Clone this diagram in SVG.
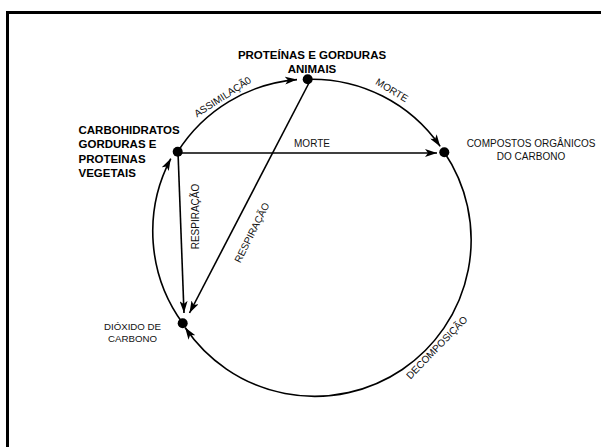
<svg xmlns="http://www.w3.org/2000/svg" width="601" height="447" viewBox="0 0 601 447">
<style>
.ln{fill:none;stroke:#000;stroke-width:1.6}
.b{font-family:"Liberation Sans",Arial,sans-serif;font-weight:bold;font-size:11.5px;fill:#000}
.r{font-family:"Liberation Sans",Arial,sans-serif;font-size:10px;fill:#111}
.dot{fill:#000}
</style>
<defs>
<marker id="ah" viewBox="0 0 12 8" refX="12" refY="4" markerWidth="12" markerHeight="8" markerUnits="userSpaceOnUse" orient="auto">
<path d="M0,0 L12,4 L0,8 L3,4 z" fill="#000"/>
</marker>
</defs>
<rect x="0" y="0" width="601" height="447" fill="#fff"/>
<path d="M7.5,447 V12.5 H601" fill="none" stroke="#000" stroke-width="3"/>
<g id="connectors">
<path class="ln" d="M177.7,151.7 A156,156 0 0 1 297,79.6" marker-end="url(#ah)"/>
<path class="ln" d="M307.7,79.3 A156,156 0 0 1 440.2,146.4" marker-end="url(#ah)"/>
<path class="ln" d="M444.3,152.3 A156,156 0 0 1 185.1,327.5" marker-end="url(#ah)"/>
<path class="ln" d="M182.7,323.3 A156,156 0 0 1 170.8,158.6" marker-end="url(#ah)"/>
<line class="ln" x1="177.7" y1="153" x2="437" y2="153" marker-end="url(#ah)"/>
<line class="ln" x1="178" y1="152" x2="184" y2="313" marker-end="url(#ah)"/>
<line class="ln" x1="310" y1="81" x2="189.5" y2="313" marker-end="url(#ah)"/>
<text class="r" text-anchor="middle" x="312" y="147">MORTE</text>
<text class="r" text-anchor="middle" transform="translate(222.5,96.7) rotate(-33)" y="3.6">ASSIMILAÇÃ0</text>
<text class="r" text-anchor="middle" transform="translate(392,90) rotate(31)" y="3.6">MORTE</text>
<text class="r" text-anchor="middle" transform="translate(436.7,347.5) rotate(-46)" y="3.6">DECOMPOSIÇÃO</text>
<text class="r" text-anchor="middle" transform="translate(195.8,216.5) rotate(-90)" y="3.6">RESPIRAÇÃO</text>
<text class="r" text-anchor="middle" transform="translate(251.7,232.5) rotate(-63.4)" y="3.6">RESPIRAÇÃO</text>
</g>
<g id="node-animais">
<circle class="dot" cx="307.7" cy="79.3" r="5"/>
<text class="b" text-anchor="middle" x="312" y="59">PROTEÍNAS E GORDURAS</text>
<text class="b" text-anchor="middle" x="312" y="73">ANIMAIS</text>
</g>
<g id="node-vegetais">
<circle class="dot" cx="177.7" cy="151.7" r="5"/>
<text class="b" x="78.5" y="134">CARBOHIDRATOS</text>
<text class="b" x="78.5" y="148.3">GORDURAS E</text>
<text class="b" x="78.5" y="162.6">PROTEINAS</text>
<text class="b" x="78.5" y="176.9">VEGETAIS</text>
</g>
<g id="node-compostos">
<circle class="dot" cx="444.3" cy="152.3" r="5"/>
<text class="r" text-anchor="middle" x="531" y="147.3">COMPOSTOS  ORGÂNICOS</text>
<text class="r" text-anchor="middle" x="531" y="160">DO CARBONO</text>
</g>
<g id="node-dioxido">
<circle class="dot" cx="182.7" cy="323.3" r="5"/>
<text class="r" text-anchor="middle" x="132.5" y="330" style="font-size:9.7px">DIÓXIDO DE</text>
<text class="r" text-anchor="middle" x="132.5" y="341.7" style="font-size:9.7px">CARBONO</text>
</g>
</svg>
